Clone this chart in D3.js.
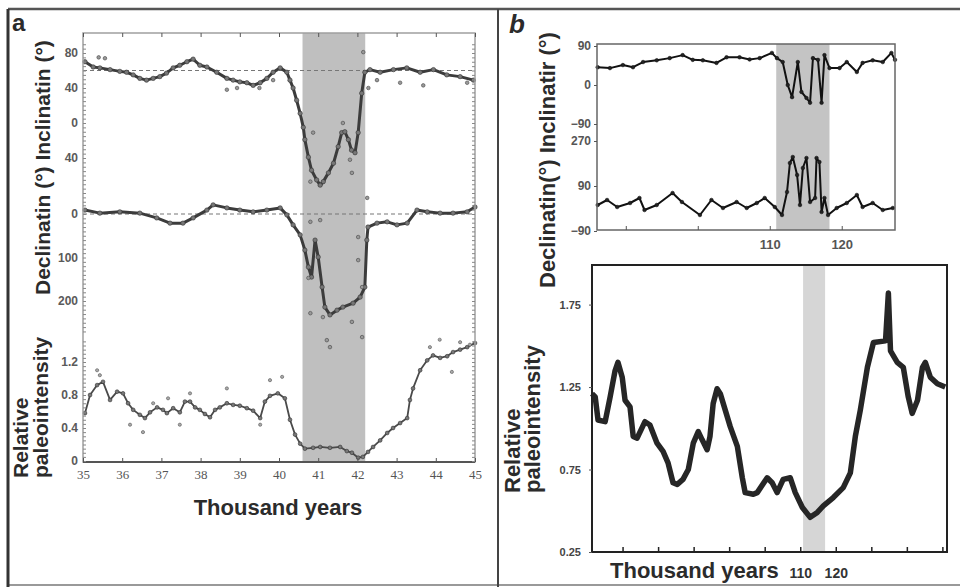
<!DOCTYPE html>
<html>
<head>
<meta charset="utf-8">
<script src="https://cdnjs.cloudflare.com/ajax/libs/d3/7.8.5/d3.min.js"></script>
<style>
  body { margin: 0; background: #fff; }
  svg { display: block; }
  .axisText { font-family: "Liberation Sans", Arial, sans-serif; font-weight: bold; fill: #2b2b2b; }
</style>
</head>
<body>
<div id="chart"></div>
<script>
// ---------- data, panel a (35-45 kyr) ----------
var incAge = [35.05,35.26,35.43,35.69,35.94,36.11,36.28,36.45,36.62,36.79,36.96,37.13,37.30,37.47,37.65,37.81,37.98,38.16,38.41,38.67,38.83,39.0,39.18,39.34,39.52,39.69,39.85,40.03,40.2,40.28,40.36,40.45,40.54,40.62,40.66,40.75,40.83,40.96,41.05,41.13,41.26,41.39,41.51,41.6,41.68,41.77,41.85,41.94,42.02,42.11,42.19,42.32,42.58,42.92,43.26,43.6,43.94,44.28,44.62,44.96];
var incVal = [70,64,63,61,59,58,55,51,49,51,53,57,63,66,70,73,66,64,58,51,49,47,46,43,46,51,58,63,58,49,40,26,11,-5,-19,-39,-54,-65,-71,-67,-57,-46,-27,-11,-10,-19,-31,-34,-11,34,58,61,58,61,63,58,61,55,53,49];
var incOutAge = [35.4,35.56,38.67,38.93,39.5,39.85,40.8,40.87,41.63,41.81,41.86,42.15,42.28,42.5,43.09,43.68,44.8];
var incOutVal = [75,74,38,40,40,49,-67,-11,0,-42,-57,81,40,49,46,43,46];

var decAge = [35.05,35.43,35.94,36.45,36.88,37.22,37.55,37.81,38.16,38.32,38.67,39.0,39.34,39.69,40.03,40.2,40.36,40.54,40.66,40.75,40.83,40.92,41.0,41.1,41.17,41.3,41.48,41.63,41.89,42.07,42.19,42.24,42.27,42.5,42.76,43.01,43.27,43.52,43.78,44.11,44.44,44.8,45.0];
var decVal = [9,2,5,2,-9,-21,-21,-9,9,21,14,9,5,9,14,-2,-25,-48,-83,-122,-145,-60,-99,-168,-214,-232,-221,-214,-205,-191,-168,-60,-30,-21,-18,-25,-21,9,5,2,2,5,16];
var decOutAge = [40.75,40.8,41.05,41.12,41.22,41.3,41.86,42.02,42.02,42.12,42.12,42.25,40.8];
var decOutVal = [-147,-18,-14,-237,-290,-306,-248,-53,-106,-168,-283,37,-228];

var intAge = [35.05,35.18,35.36,35.51,35.69,35.87,36.02,36.15,36.28,36.45,36.58,36.71,36.89,37.04,37.14,37.30,37.47,37.60,37.73,37.86,37.98,38.11,38.24,38.37,38.49,38.67,38.83,39.0,39.18,39.34,39.52,39.64,39.77,39.97,40.15,40.28,40.41,40.54,40.66,40.87,41.05,41.3,41.56,41.73,41.86,42.02,42.14,42.27,42.4,42.58,42.76,42.91,43.09,43.27,43.34,43.42,43.6,43.78,43.93,44.11,44.29,44.44,44.62,44.8,45.0];
var intVal = [0.58,0.80,0.92,0.96,0.74,0.84,0.82,0.70,0.62,0.56,0.52,0.59,0.65,0.62,0.58,0.64,0.59,0.72,0.72,0.65,0.62,0.57,0.53,0.62,0.65,0.70,0.68,0.67,0.64,0.61,0.52,0.72,0.79,0.82,0.76,0.50,0.32,0.21,0.15,0.16,0.17,0.16,0.17,0.12,0.10,0.04,0.05,0.11,0.17,0.25,0.34,0.40,0.46,0.52,0.74,0.88,1.10,1.22,1.28,1.25,1.27,1.32,1.35,1.38,1.43];
var intOutAge = [35.36,35.43,36.2,36.53,36.79,37.17,37.47,37.73,38.67,39.52,39.77,40.08,43.85,44.1,44.41,44.62,44.87];
var intOutVal = [1.10,1.04,0.44,0.35,0.70,0.76,0.44,0.82,0.88,0.44,0.98,1.02,1.38,1.47,1.08,1.44,1.41];

var bandA = [40.6, 42.2];
var incRef = 60;   // dashed reference lines
var decRef = 0;
var xTicksA = [35,36,37,38,39,40,41,42,43,44,45];
var incTicks = [80,40,0,-40];
var decTicks = [0,-100,-200];
var intTicks = [0,0.4,0.8,1.2];

// ---------- data, panel b ----------
var bIncAge = [86.1,87.8,89.6,91.0,92.4,94.3,96.1,97.9,99.3,100.7,102.6,104.0,105.8,107.2,108.6,110.3,111.0,111.8,112.5,113.1,113.9,114.4,115.1,115.6,116.0,116.7,117.2,117.6,118.3,119.7,120.7,122.1,122.9,124.3,125.7,126.9,127.4];
var bIncVal = [41,39,46,41,53,57,62,69,58,57,51,64,64,59,62,74,62,53,0,-28,53,-16,-30,-41,62,58,-41,69,39,39,53,30,51,57,53,74,58];
var bDecAge = [86.1,87.4,88.8,90.6,91.9,92.6,94.3,96.5,97.8,100.3,101.9,103.5,105.4,106.8,108.2,109.3,110.7,111.7,112.4,112.8,113.2,113.8,114.2,114.6,115.1,115.6,116.3,116.5,116.9,117.2,117.6,118.1,119.3,120.7,122.1,122.9,124.3,125.7,127.1];
var bDecVal = [14,34,6,22,42,-6,14,62,26,-26,34,2,26,2,22,42,6,-26,66,182,206,134,14,162,202,26,42,202,186,-14,42,-26,2,22,54,6,22,-6,2];
var bIntAge = [51.4,52.3,53.1,55.1,56.5,57.9,58.7,59.9,60.7,62.1,63.0,64.1,66.3,67.7,69.7,71.4,72.8,74.2,75.4,77.0,78.5,79.9,81.3,82.4,83.8,84.6,85.5,86.6,87.5,88.9,90.3,92.3,93.7,94.5,96.8,97.9,100.7,102.1,103.5,105.2,107.2,108.6,110.6,112.8,114.8,116.5,119.3,122.1,124.1,125.5,126.9,128.9,130.6,134.0,134.8,135.4,137.3,139.0,140.4,141.5,143.0,144.4,145.2,146.6,148.6,150.8];
var bIntVal = [1.21,1.19,1.05,1.04,1.19,1.35,1.40,1.31,1.17,1.13,0.95,0.94,1.04,1.02,0.91,0.86,0.79,0.67,0.66,0.69,0.75,0.91,0.98,0.93,0.87,0.95,1.15,1.24,1.21,1.11,1.01,0.89,0.70,0.61,0.60,0.61,0.70,0.67,0.61,0.69,0.70,0.61,0.52,0.46,0.49,0.53,0.58,0.64,0.73,0.95,1.11,1.37,1.52,1.53,1.82,1.47,1.40,1.37,1.19,1.09,1.17,1.37,1.40,1.31,1.27,1.25];
var bandBTop = [110.9, 118.3];
var bandBBot = [110.8, 117.0];
var bTopInc = [90,0,-90];
var bTopDec = [270,90,-90];
var bXTicks = [90,100,110,120];
var bBotXTicks = [60,70,80,90,100,110,120,130,140,150];
var bIntTicks = [0.25,0.75,1.25,1.75];

var svgWidth = 960;
var svgHeight = 587;
var sans = "'Liberation Sans', Arial, sans-serif";

var svg = d3.select("#chart")
  .append("svg")
  .attr("width", svgWidth)
  .attr("height", svgHeight);

// frame boxes of the three plots
var boxA = { left: 83, top: 33, right: 475, bottom: 462 };
var boxB1 = { left: 597, top: 44, right: 895, bottom: 230 };
var boxB2 = { left: 592, top: 265, right: 947, bottom: 552 };

// scales
var xA = d3.scaleLinear().domain([35, 45]).range([boxA.left, boxA.right]);
var yInc = d3.scaleLinear().domain([80, -40]).range([53, 158]);
var yDec = d3.scaleLinear().domain([0, -200]).range([214, 301]);
var yInt = d3.scaleLinear().domain([0, 1.2]).range([461, 362]);

var xB1 = d3.scaleLinear().domain([86, 127.4]).range([boxB1.left, boxB1.right]);
var yBInc = d3.scaleLinear().domain([90, -90]).range([46, 124]);
var yBDec = d3.scaleLinear().domain([270, -90]).range([141, 231]);

var xB2 = d3.scaleLinear().domain([51.4, 151.3]).range([boxB2.left, boxB2.right]);
var yB2 = d3.scaleLinear().domain([0.25, 1.99]).range([boxB2.bottom, boxB2.top]);

// page borders
svg.append("line").attr("x1", 8).attr("x2", 960).attr("y1", 9).attr("y2", 9)
  .attr("stroke", "#555").attr("stroke-width", 2.5);
svg.append("line").attr("x1", 8).attr("x2", 960).attr("y1", 585).attr("y2", 585)
  .attr("stroke", "#999").attr("stroke-width", 2);
svg.append("line").attr("x1", 8).attr("x2", 8).attr("y1", 9).attr("y2", 587)
  .attr("stroke", "#333").attr("stroke-width", 3);
svg.append("line").attr("x1", 498).attr("x2", 498).attr("y1", 9).attr("y2", 587)
  .attr("stroke", "#444").attr("stroke-width", 2);

// panel letters
svg.append("text").attr("x", 12).attr("y", 31).attr("class", "axisText")
  .attr("font-size", 24).text("a");
svg.append("text").attr("x", 509).attr("y", 33).attr("class", "axisText")
  .attr("font-size", 26).attr("font-style", "italic").text("b");

function pairs(ages, vals) { return d3.zip(ages, vals); }

function drawLine(g, data, x, y, color, width) {
  g.append("path")
    .datum(data)
    .attr("fill", "none")
    .attr("stroke", color)
    .attr("stroke-width", width)
    .attr("stroke-linejoin", "round")
    .attr("d", d3.line().x(d => x(d[0])).y(d => y(d[1])));
}

function drawDots(g, data, x, y, r, fill, stroke) {
  g.append("g").selectAll("circle")
    .data(data)
    .enter()
    .append("circle")
    .attr("cx", d => x(d[0]))
    .attr("cy", d => y(d[1]))
    .attr("r", r)
    .attr("fill", fill)
    .attr("stroke", stroke)
    .attr("stroke-width", 0.6);
}

function styleAxis(g, size, color, family, weight) {
  g.select(".domain").remove();
  g.attr("font-family", family).attr("font-size", size);
  g.selectAll("text").attr("fill", color).attr("font-weight", weight);
  g.selectAll("line").attr("stroke", "#555");
}

// =============== panel a ===============
var gA = svg.append("g");

gA.append("rect")
  .attr("x", xA(bandA[0])).attr("y", boxA.top)
  .attr("width", xA(bandA[1]) - xA(bandA[0]))
  .attr("height", boxA.bottom - boxA.top)
  .attr("fill", "#bfbfbf");

// dashed reference lines
gA.append("line").attr("x1", boxA.left).attr("x2", boxA.right)
  .attr("y1", yInc(incRef)).attr("y2", yInc(incRef))
  .attr("stroke", "#777").attr("stroke-width", 1.2).attr("stroke-dasharray", "4,3");
gA.append("line").attr("x1", boxA.left).attr("x2", boxA.right)
  .attr("y1", yDec(decRef)).attr("y2", yDec(decRef))
  .attr("stroke", "#777").attr("stroke-width", 1.2).attr("stroke-dasharray", "4,3");

// series
drawLine(gA, pairs(incAge, incVal), xA, yInc, "#3c3c3c", 3);
drawDots(gA, pairs(incAge, incVal), xA, yInc, 2.2, "#777", "#333");
drawDots(gA, pairs(incOutAge, incOutVal), xA, yInc, 1.8, "#999", "#444");

drawLine(gA, pairs(decAge, decVal), xA, yDec, "#3c3c3c", 3);
drawDots(gA, pairs(decAge, decVal), xA, yDec, 2.2, "#777", "#333");
drawDots(gA, pairs(decOutAge, decOutVal), xA, yDec, 1.8, "#999", "#444");

drawLine(gA, pairs(intAge, intVal), xA, yInt, "#4a4a4a", 1.8);
drawDots(gA, pairs(intAge, intVal), xA, yInt, 1.9, "#777", "#333");
drawDots(gA, pairs(intOutAge, intOutVal), xA, yInt, 1.6, "#aaa", "#555");

// frame
gA.append("rect")
  .attr("x", boxA.left).attr("y", boxA.top)
  .attr("width", boxA.right - boxA.left).attr("height", boxA.bottom - boxA.top)
  .attr("fill", "none").attr("stroke", "#a0a0a0").attr("stroke-width", 1.5);
gA.append("line").attr("x1", boxA.left).attr("x2", boxA.right)
  .attr("y1", boxA.bottom).attr("y2", boxA.bottom)
  .attr("stroke", "#555").attr("stroke-width", 2);

// minor ticks on both vertical edges
var minorSets = [
  [yInc, d3.range(90, -95, -5)],
  [yDec, d3.range(20, -275, -10)],
  [yInt, d3.range(0, 1.46, 0.05)]
];
minorSets.forEach(function(m) {
  var l = gA.append("g").attr("transform", `translate(${boxA.left},0)`)
    .call(d3.axisRight(m[0]).tickValues(m[1]).tickSize(3).tickFormat(""));
  styleAxis(l, 10, "#555", sans, "normal");
  l.selectAll("line").attr("stroke", "#888");
  var r = gA.append("g").attr("transform", `translate(${boxA.right},0)`)
    .call(d3.axisLeft(m[0]).tickValues(m[1]).tickSize(3).tickFormat(""));
  styleAxis(r, 10, "#555", sans, "normal");
  r.selectAll("line").attr("stroke", "#888");
});

// y labels
[[yInc, incTicks], [yDec, decTicks], [yInt, intTicks]].forEach(function(m) {
  var g = gA.append("g").attr("transform", `translate(${boxA.left},0)`)
    .call(d3.axisLeft(m[0]).tickValues(m[1]).tickSize(0).tickPadding(5)
      .tickFormat(d => String(Math.abs(d))));
  styleAxis(g, 12, "#5a5a5a", sans, "bold");
});

// x axis
var xAxisA = gA.append("g").attr("transform", `translate(0,${boxA.bottom})`)
  .call(d3.axisBottom(xA).tickValues(xTicksA).tickSizeInner(-4).tickSizeOuter(0).tickPadding(8));
styleAxis(xAxisA, 13, "#555", "'Liberation Serif', 'Times New Roman', serif", "normal");
var xTopA = gA.append("g").attr("transform", `translate(0,${boxA.top})`)
  .call(d3.axisTop(xA).tickValues(xTicksA).tickSizeInner(-4).tickSizeOuter(0).tickFormat(""));
styleAxis(xTopA, 10, "#555", sans, "normal");

// axis titles
gA.append("text")
  .attr("class", "axisText").attr("font-size", 21)
  .attr("transform", "translate(50,295) rotate(-90)")
  .text("Declinatin (°)  Inclinatin (°)");
gA.append("text")
  .attr("class", "axisText").attr("font-size", 21)
  .attr("transform", "translate(28,478) rotate(-90)")
  .text("Relative");
gA.append("text")
  .attr("class", "axisText").attr("font-size", 21)
  .attr("transform", "translate(48,478) rotate(-90)")
  .text("paleointensity");
gA.append("text")
  .attr("class", "axisText").attr("font-size", 22)
  .attr("x", 278).attr("y", 515).attr("text-anchor", "middle")
  .text("Thousand years");

// =============== panel b, top ===============
var gB1 = svg.append("g");

gB1.append("rect")
  .attr("x", xB1(bandBTop[0])).attr("y", boxB1.top)
  .attr("width", xB1(bandBTop[1]) - xB1(bandBTop[0]))
  .attr("height", boxB1.bottom - boxB1.top)
  .attr("fill", "#c4c4c4");

drawLine(gB1, pairs(bIncAge, bIncVal), xB1, yBInc, "#111", 2);
drawDots(gB1, pairs(bIncAge, bIncVal), xB1, yBInc, 1.8, "#222", "#111");
drawLine(gB1, pairs(bDecAge, bDecVal), xB1, yBDec, "#111", 2);
drawDots(gB1, pairs(bDecAge, bDecVal), xB1, yBDec, 1.8, "#222", "#111");

gB1.append("rect")
  .attr("x", boxB1.left).attr("y", boxB1.top)
  .attr("width", boxB1.right - boxB1.left).attr("height", boxB1.bottom - boxB1.top)
  .attr("fill", "none").attr("stroke", "#666").attr("stroke-width", 1.5);

[[yBInc, bTopInc], [yBDec, bTopDec]].forEach(function(m) {
  var g = gB1.append("g").attr("transform", `translate(${boxB1.left},0)`)
    .call(d3.axisLeft(m[0]).tickValues(m[1]).tickSize(3).tickPadding(3));
  styleAxis(g, 12, "#555", sans, "bold");
});
var xAxisB1 = gB1.append("g").attr("transform", `translate(0,${boxB1.bottom})`)
  .call(d3.axisBottom(xB1).tickValues(bXTicks).tickSizeInner(-4).tickSizeOuter(0).tickPadding(10)
    .tickFormat(d => d >= 110 ? d : ""));
styleAxis(xAxisB1, 13, "#555", sans, "bold");

gB1.append("text")
  .attr("class", "axisText").attr("font-size", 22)
  .attr("transform", "translate(555,288) rotate(-90)")
  .text("Declinatin(°) Inclinatir (°)");

// =============== panel b, bottom ===============
var gB2 = svg.append("g");

gB2.append("rect")
  .attr("x", xB2(bandBBot[0])).attr("y", boxB2.top)
  .attr("width", xB2(bandBBot[1]) - xB2(bandBBot[0]))
  .attr("height", boxB2.bottom - boxB2.top)
  .attr("fill", "#d6d6d6");

drawLine(gB2, pairs(bIntAge, bIntVal), xB2, yB2, "#262626", 5.5);

gB2.append("rect")
  .attr("x", boxB2.left).attr("y", boxB2.top)
  .attr("width", boxB2.right - boxB2.left).attr("height", boxB2.bottom - boxB2.top)
  .attr("fill", "none").attr("stroke", "#222").attr("stroke-width", 2);

var yAxisB2 = gB2.append("g").attr("transform", `translate(${boxB2.left},0)`)
  .call(d3.axisLeft(yB2).tickValues(bIntTicks).tickSize(3).tickPadding(8)
    .tickFormat(d3.format(".2f")));
styleAxis(yAxisB2, 11, "#444", sans, "bold");

var xAxisB2 = gB2.append("g").attr("transform", `translate(0,${boxB2.bottom})`)
  .call(d3.axisBottom(xB2).tickValues(bBotXTicks).tickSizeInner(-5).tickSizeOuter(0).tickPadding(16)
    .tickFormat(d => (d === 110 || d === 120) ? d : ""));
styleAxis(xAxisB2, 14, "#333", sans, "bold");
xAxisB2.selectAll("line").attr("stroke", "#222").attr("stroke-width", 1.5);

gB2.append("text")
  .attr("class", "axisText").attr("font-size", 22)
  .attr("transform", "translate(520,493) rotate(-90)")
  .text("Relative");
gB2.append("text")
  .attr("class", "axisText").attr("font-size", 22)
  .attr("transform", "translate(540,493) rotate(-90)")
  .text("paleointensity");
gB2.append("text")
  .attr("class", "axisText").attr("font-size", 22)
  .attr("x", 610).attr("y", 578)
  .text("Thousand years");
</script>
</body>
</html>
